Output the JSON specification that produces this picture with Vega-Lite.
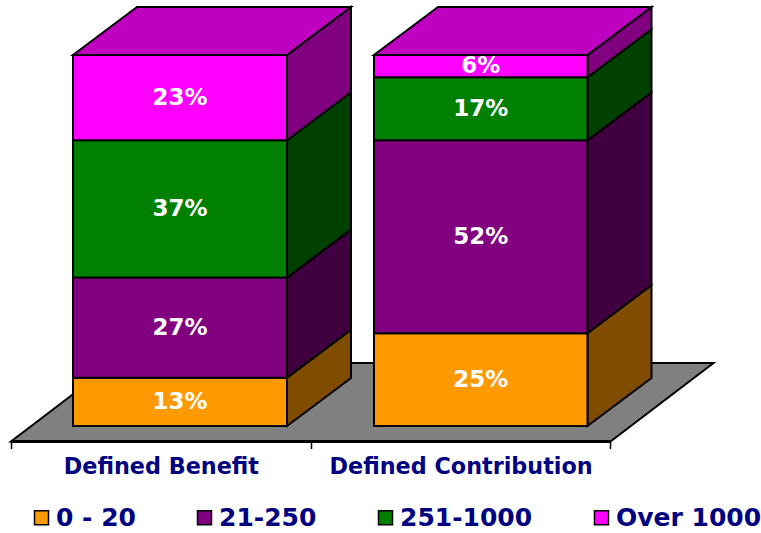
{
"$schema":"https://vega.github.io/schema/vega-lite/v6.json",
"width":761,"height":441.5,
"autosize":"none",
"padding":{"left":0,"top":0,"right":0,"bottom":91.5},
"background":"white",
"view":{"stroke":null},
"config":{"font":"DejaVu Sans"},
"datasets":{
"front":[
{"bar":"Defined Benefit","series":"0 - 20","label":"13%","low":0,"high":13,"left":0.2068,"right":0.9208,"center":0.5638,"mid":6.5},
{"bar":"Defined Benefit","series":"21-250","label":"27%","low":13,"high":40,"left":0.2068,"right":0.9208,"center":0.5638,"mid":26.5},
{"bar":"Defined Benefit","series":"251-1000","label":"37%","low":40,"high":77,"left":0.2068,"right":0.9208,"center":0.5638,"mid":58.5},
{"bar":"Defined Benefit","series":"Over 1000","label":"23%","low":77,"high":100,"left":0.2068,"right":0.9208,"center":0.5638,"mid":88.5},
{"bar":"Defined Contribution","series":"0 - 20","label":"25%","low":0,"high":25,"left":1.211,"right":1.9233,"center":1.5672,"mid":12.5},
{"bar":"Defined Contribution","series":"21-250","label":"52%","low":25,"high":77,"left":1.211,"right":1.9233,"center":1.5672,"mid":51},
{"bar":"Defined Contribution","series":"251-1000","label":"17%","low":77,"high":94,"left":1.211,"right":1.9233,"center":1.5672,"mid":85.5},
{"bar":"Defined Contribution","series":"Over 1000","label":"6%","low":94,"high":100,"left":1.211,"right":1.9233,"center":1.5672,"mid":97}
],
"side":[
{"bar":"Defined Benefit","series":"0 - 20","x":0.9208,"low":0,"high":13},
{"bar":"Defined Benefit","series":"0 - 20","x":1.1343,"low":12.94,"high":25.94},
{"bar":"Defined Benefit","series":"21-250","x":0.9208,"low":13,"high":40},
{"bar":"Defined Benefit","series":"21-250","x":1.1343,"low":25.94,"high":52.94},
{"bar":"Defined Benefit","series":"251-1000","x":0.9208,"low":40,"high":77},
{"bar":"Defined Benefit","series":"251-1000","x":1.1343,"low":52.94,"high":89.94},
{"bar":"Defined Benefit","series":"Over 1000","x":0.9208,"low":77,"high":100},
{"bar":"Defined Benefit","series":"Over 1000","x":1.1343,"low":89.94,"high":112.94},
{"bar":"Defined Contribution","series":"0 - 20","x":1.9233,"low":0,"high":25},
{"bar":"Defined Contribution","series":"0 - 20","x":2.1368,"low":12.94,"high":37.94},
{"bar":"Defined Contribution","series":"21-250","x":1.9233,"low":25,"high":77},
{"bar":"Defined Contribution","series":"21-250","x":2.1368,"low":37.94,"high":89.94},
{"bar":"Defined Contribution","series":"251-1000","x":1.9233,"low":77,"high":94},
{"bar":"Defined Contribution","series":"251-1000","x":2.1368,"low":89.94,"high":106.94},
{"bar":"Defined Contribution","series":"Over 1000","x":1.9233,"low":94,"high":100},
{"bar":"Defined Contribution","series":"Over 1000","x":2.1368,"low":106.94,"high":112.94}
],
"top":[
{"bar":"Defined Benefit","y":100,"left":0.2068,"right":0.9208},
{"bar":"Defined Benefit","y":112.94,"left":0.4203,"right":1.1343},
{"bar":"Defined Contribution","y":100,"left":1.211,"right":1.9233},
{"bar":"Defined Contribution","y":112.94,"left":1.4245,"right":2.1368}
],
"floor":[
{"y":-4.178,"left":0,"right":2},
{"y":16.98,"left":0.3436,"right":2.3436}
]
},
"resolve":{"scale":{"color":"independent"},"axis":{"x":"independent"}},
"layer":[
{"data":{"name":"floor"},
 "mark":{"type":"area","orient":"horizontal","fill":"#808080","stroke":"#000","strokeWidth":2},
 "encoding":{
  "y":{"field":"y","type":"quantitative","scale":{"domain":[-4.178,114.82],"nice":false,"zero":false},"axis":null},
  "x":{"field":"left","type":"quantitative","scale":{"domain":[-0.0367,2.5021],"nice":false,"zero":false},
       "axis":{"orient":"bottom","values":[0,1,2],"labels":false,"title":null,"grid":false,"domain":false,"ticks":true,"tickSize":7,"tickColor":"#000","tickWidth":1.5}},
  "x2":{"field":"right"}
 }},
{"data":{"values":[{"start":0,"end":2,"level":-4.178}]},
 "mark":{"type":"rule","stroke":"#000","strokeWidth":3},
 "encoding":{
  "x":{"field":"start","type":"quantitative","axis":null},"x2":{"field":"end"},
  "y":{"field":"level","type":"quantitative","axis":null}
 }},
{"data":{"name":"side"},
 "mark":{"type":"area","orient":"vertical","stroke":"#000","strokeWidth":2,"opacity":1},
 "encoding":{
  "x":{"field":"x","type":"quantitative","axis":{"orient":"bottom","values":[0.5,1.5],"title":null,"grid":false,"domain":false,"ticks":false,"labelPadding":14,"labelLimit":400,"labelExpr":"datum.value==0.5?'Defined Benefit':'Defined Contribution'","labelFont":"DejaVu Sans","labelFontWeight":"bold","labelFontSize":22.3,"labelColor":"#000080","labelOverlap":false}},
  "y":{"field":"low","type":"quantitative","axis":null},"y2":{"field":"high"},
  "detail":{"field":"bar"},
  "color":{"field":"series","type":"nominal","legend":null,"scale":{"domain":["0 - 20","21-250","251-1000","Over 1000"],"range":["#804D00","#400040","#004000","#800080"]}}
 }},
{"data":{"name":"top"},
 "mark":{"type":"area","orient":"horizontal","fill":"#C000C0","stroke":"#000","strokeWidth":2},
 "encoding":{
  "y":{"field":"y","type":"quantitative","axis":null},
  "x":{"field":"left","type":"quantitative","axis":null},"x2":{"field":"right"},
  "detail":{"field":"bar"}
 }},
{"data":{"name":"front"},
 "mark":{"type":"rect","stroke":"#000","strokeWidth":2},
 "encoding":{
  "x":{"field":"left","type":"quantitative","axis":null},"x2":{"field":"right"},
  "y":{"field":"low","type":"quantitative","axis":null},"y2":{"field":"high"},
  "color":{"field":"series","type":"nominal","scale":{"domain":["0 - 20","21-250","251-1000","Over 1000"],"range":["#FF9900","#800080","#008000","#FF00FF"]},
   "legend":{"orient":"none","direction":"horizontal","columns":4,"legendX":29,"legendY":505,"title":null,"columnPadding":56,"symbolType":"square","symbolSize":196,"symbolStrokeColor":"#000","symbolStrokeWidth":1.5,"labelFont":"DejaVu Sans","labelFontWeight":"bold","labelFontSize":25,"labelColor":"#000080","labelOffset":2,"labelLimit":300,"symbolOpacity":1}}
 }},
{"data":{"name":"front"},
 "mark":{"type":"text","font":"DejaVu Sans","fontWeight":"bold","fontSize":23,"fill":"#fff","baseline":"middle"},
 "encoding":{
  "x":{"field":"center","type":"quantitative","axis":null},
  "y":{"field":"mid","type":"quantitative","axis":null},
  "text":{"field":"label"}
 }}
]
}
